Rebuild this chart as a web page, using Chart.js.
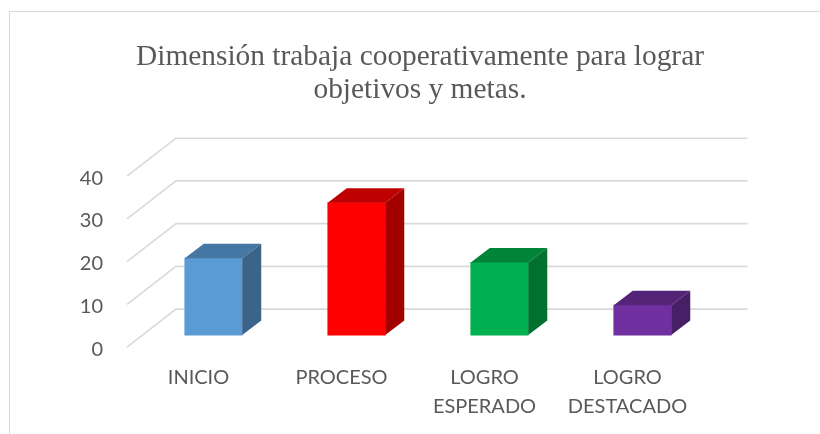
<!DOCTYPE html>
<html><head><meta charset="utf-8">
<script src="https://cdn.jsdelivr.net/npm/chart.js@4"></script>
<style>
html,body{margin:0;padding:0;background:#fff;overflow:hidden}
#wrap{position:relative;width:820px;height:434px}
#frame{position:absolute;left:9px;top:11px;width:820px;height:440px;border:1px solid #d9d9d9}
canvas{position:absolute;left:0;top:0}
</style></head><body>
<div id="wrap"><div id="frame"></div><canvas id="c" width="820" height="434"></canvas></div>
<script>
const titleLines = ["Dimensión trabaja cooperativamente para lograr", "objetivos y metas."];
const categories = [["INICIO"], ["PROCESO"], ["LOGRO", "ESPERADO"], ["LOGRO", "DESTACADO"]];
const values = [18, 31, 17, 7];
const yTicks = [0, 10, 20, 30, 40];
const frontColors = ["#5B9BD5", "#FF0000", "#00B050", "#7030A0"];
const topColors = ["#4577A5", "#BF0000", "#008438", "#542478"];
const sideColors = ["#3C6489", "#A30000", "#00712F", "#471F66"];

// pseudo-3D geometry, in pixels
const barDepth = { dx: 19, dy: 14.5 };
const wall = { dx: 34, dy: 26 };
const floor = { dx: 15, dy: 12 };

const box3d = {
  id: "box3d",
  beforeDatasetsDraw(chart) {
    const { ctx, scales: { x, y } } = chart;
    ctx.save();
    ctx.strokeStyle = "#d9d9d9";
    ctx.lineWidth = 1.6;
    yTicks.forEach(v => {
      const p = y.getPixelForValue(v);
      ctx.beginPath();
      ctx.moveTo(x.left - floor.dx, p + floor.dy);
      ctx.lineTo(x.left + wall.dx, p - wall.dy);
      ctx.lineTo(x.right + wall.dx - 0.5, p - wall.dy);
      ctx.stroke();
    });
    ctx.restore();
  },
  afterDatasetsDraw(chart) {
    const { ctx } = chart;
    const d = barDepth;
    chart.getDatasetMeta(0).data.forEach((bar, i) => {
      const l = bar.x - bar.width / 2, r = bar.x + bar.width / 2, t = bar.y, b = bar.base;
      ctx.save();
      ctx.fillStyle = topColors[i];
      ctx.beginPath();
      ctx.moveTo(l, t);
      ctx.lineTo(l + d.dx, t - d.dy);
      ctx.lineTo(r + d.dx, t - d.dy);
      ctx.lineTo(r, t);
      ctx.closePath();
      ctx.fill();
      ctx.fillStyle = sideColors[i];
      ctx.beginPath();
      ctx.moveTo(r, t);
      ctx.lineTo(r + d.dx, t - d.dy);
      ctx.lineTo(r + d.dx, b - d.dy);
      ctx.lineTo(r, b);
      ctx.closePath();
      ctx.fill();
      ctx.restore();
    });
  }
};

new Chart(document.getElementById("c"), {
  type: "bar",
  data: {
    labels: categories,
    datasets: [{ data: values, backgroundColor: frontColors, borderWidth: 0, barThickness: 57.5 }]
  },
  plugins: [box3d],
  options: {
    responsive: false,
    animation: false,
    layout: { padding: { left: 20, right: 0, top: 0, bottom: 0 } },
    plugins: {
      legend: { display: false },
      tooltip: { enabled: false },
      title: {
        display: true,
        text: titleLines,
        color: "#595959",
        font: { family: "'Liberation Serif'", size: 29.4, weight: "normal", lineHeight: 1.12 },
        padding: { top: 41, bottom: 32 }
      }
    },
    scales: {
      x: {
        grid: { display: false },
        border: { display: false },
        afterFit(s) { s.height = 87; },
        ticks: {
          color: "#595959",
          font: { family: "Lato", size: 20, lineHeight: 1.45 },
          padding: 8,
          labelOffset: -15,
          maxRotation: 0,
          autoSkip: false
        }
      },
      y: {
        min: -2.79,
        max: 45.93,
        grid: { display: false },
        border: { display: false },
        afterFit(s) { s.width = 122; },
        afterBuildTicks(s) { s.ticks = yTicks.map(value => ({ value })); },
        ticks: {
          color: "#595959",
          font: { family: "Lato", size: 20 },
          padding: 31,
          labelOffset: 14
        }
      },
      rightGap: {
        position: "right",
        grid: { display: false },
        border: { display: false },
        ticks: { display: false },
        afterFit(s) { s.width = 106; }
      }
    }
  }
});
</script>
</body></html>
